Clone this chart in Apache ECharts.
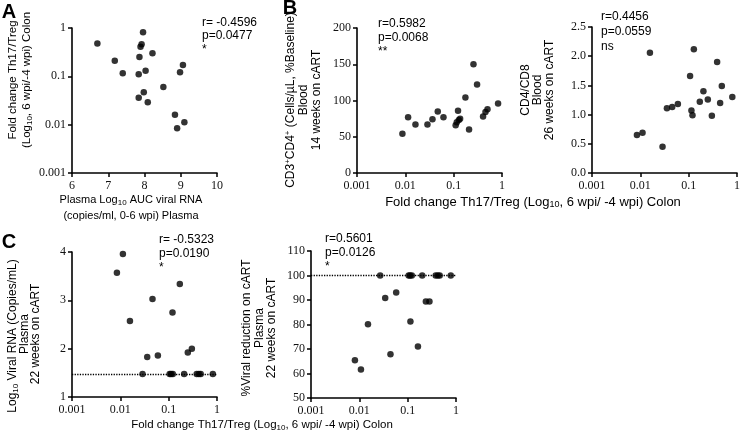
<!DOCTYPE html>
<html>
<head>
<meta charset="utf-8">
<script src="https://cdn.jsdelivr.net/npm/echarts@6/dist/echarts.min.js"></script>
<style>
html,body{margin:0;padding:0;background:#fff;}
#c{width:741px;height:439px;}
</style>
</head>
<body>
<div id="c"></div>
<script>
// ---------- DATA ----------
const logTickLabels = ['0.001', '0.01', '0.1', '1'];
const aXTicks = ['6', '7', '8', '9', '10'];

// Panel A: Plasma log10 AUC viral RNA vs fold change Th17/Treg
const aX = [6.70, 7.18, 7.40, 7.96, 7.92, 7.89, 7.86, 8.22, 7.84, 8.03, 7.98, 7.84, 8.09, 8.52, 9.06, 8.98, 8.84, 9.10, 8.90];
const aY = [0.48, 0.21, 0.116, 0.82, 0.46, 0.41, 0.25, 0.30, 0.11, 0.13, 0.047, 0.036, 0.029, 0.060, 0.172, 0.122, 0.016, 0.0112, 0.0084];

// Panel B1: fold change vs CD3+CD4+ %baseline
const b1X = [0.0087, 0.0114, 0.0162, 0.0287, 0.0364, 0.0469, 0.0615, 0.110, 0.116, 0.123, 0.128, 0.136, 0.175, 0.208, 0.257, 0.305, 0.406, 0.455, 0.501, 0.83];
const b1Y = [54, 77, 67, 67, 74, 85, 77, 66, 70, 86, 73, 75, 104, 60, 150, 122, 78, 84, 88, 96];

// Panel B2: fold change vs CD4/CD8
const b2X = [0.0085, 0.0111, 0.0158, 0.0288, 0.0355, 0.0456, 0.0598, 0.107, 0.114, 0.120, 0.128, 0.170, 0.202, 0.249, 0.302, 0.388, 0.448, 0.485, 0.80];
const b2Y = [0.65, 0.69, 2.06, 0.45, 1.11, 1.13, 1.18, 1.66, 1.07, 0.99, 2.12, 1.22, 1.40, 1.26, 0.98, 1.90, 1.20, 1.49, 1.30];

// Panel C1: fold change vs log10 viral RNA
const c1LOD = 1.477;
const c1X = [0.0085, 0.0113, 0.0158, 0.0288, 0.036, 0.0463, 0.0598, 0.105, 0.112, 0.120, 0.122, 0.170, 0.209, 0.249, 0.302, 0.38, 0.42, 0.46, 0.82];
const c1Y = [3.57, 3.96, 2.57, 1.477, 1.83, 3.03, 1.86, 1.477, 1.477, 2.75, 1.477, 3.34, 1.477, 1.92, 2.00, 1.477, 1.477, 1.477, 1.477];

// Panel C2: fold change vs % viral reduction
const c2LOD = 100;
const c2X = [0.0081, 0.0108, 0.0151, 0.027, 0.0343, 0.0441, 0.0579, 0.105, 0.112, 0.114, 0.122, 0.163, 0.20, 0.238, 0.282, 0.38, 0.42, 0.46, 0.78];
const c2Y = [65.4, 61.6, 80.1, 100, 90.8, 67.9, 93.1, 100, 100, 81.2, 100, 71.0, 100, 89.4, 89.4, 100, 100, 100, 100];

const stats = {
  A: ['r= -0.4596', 'p=0.0477', '*'],
  B1: ['r=0.5982', 'p=0.0068', '**'],
  B2: ['r=0.4456', 'p=0.0559', 'ns'],
  C1: ['r= -0.5323', 'p=0.0190', '*'],
  C2: ['r=0.5601', 'p=0.0126', '*']
};

// ---------- STYLE ----------
const SANS = '"Liberation Sans", Arial, sans-serif';
const SERIF = '"Liberation Serif", "Times New Roman", serif';
const INK = '#000';

function zip(xs, ys) { return xs.map((x, i) => [x, ys[i]]); }
function logFmt(v) {
  const e = Math.round(Math.log10(v));
  return logTickLabels[e + 3];
}
function baseAxis(extra, isX) {
  return Object.assign({
    axisLine: { show: true, onZero: false, lineStyle: { color: INK, width: 1.6 } },
    axisTick: { show: true, inside: false, length: 4, lineStyle: { color: INK, width: 1.5 } },
    axisLabel: { color: '#111', fontFamily: SERIF, fontSize: 12, margin: isX ? 7 : 6 },
    splitLine: { show: false },
    minorTick: { show: false }
  }, extra);
}
function logAxis(grid, isX) {
  const ax = baseAxis({ type: 'log', logBase: 10, min: 0.001, max: 1, gridIndex: grid }, isX);
  ax.axisLabel.formatter = logFmt;
  return ax;
}
function valAxis(grid, min, max, interval, isX, fmt) {
  const ax = baseAxis({ type: 'value', min, max, interval, gridIndex: grid }, isX);
  if (fmt) ax.axisLabel.formatter = fmt;
  return ax;
}
function scatter(i, data, markY) {
  const s = {
    type: 'scatter', xAxisIndex: i, yAxisIndex: i, data,
    symbol: 'circle', symbolSize: 6.5,
    itemStyle: { color: INK }, animation: false, silent: true
  };
  if (markY !== undefined) {
    s.markLine = {
      silent: true, symbol: ['none', 'none'], label: { show: false }, animation: false,
      lineStyle: { type: 'dotted', color: INK, width: 1.3 },
      data: [{ yAxis: markY }]
    };
  }
  return s;
}

const grids = [
  { left: 72, top: 28, width: 145, height: 145 },   // A
  { left: 357, top: 28, width: 145, height: 145 },  // B1
  { left: 592, top: 27, width: 145, height: 146 },  // B2
  { left: 72, top: 252, width: 145, height: 145 },  // C1
  { left: 311, top: 251, width: 145, height: 147 }  // C2
].map(g => Object.assign({ outerBoundsMode: 'none', containLabel: false }, g));

const xAxes = [
  valAxis(0, 6, 10, 1, true, v => aXTicks[Math.round(v) - 6]),
  logAxis(1, true), logAxis(2, true), logAxis(3, true), logAxis(4, true)
];
const yAxes = [
  logAxis(0, false),
  valAxis(1, 0, 200, 50, false),
  valAxis(2, 0, 2.5, 0.5, false, v => v.toFixed(1)),
  valAxis(3, 1, 4, 1, false),
  valAxis(4, 50, 110, 10, false)
];

// ---------- TEXT ----------
const rich = {
  sub: { fontSize: 8, fontFamily: SANS, fill: INK, verticalAlign: 'bottom', lineHeight: 14 },
  sup: { fontSize: 8, fontFamily: SANS, fill: INK, verticalAlign: 'top', lineHeight: 14 }
};
function txt(x, y, text, size, opts) {
  opts = opts || {};
  return {
    type: 'text', x, y, rotation: opts.rot ? Math.PI / 2 : 0, silent: true,
    style: {
      text, fill: INK, fontFamily: SANS, fontSize: size, fontWeight: opts.bold ? 'bold' : 'normal',
      align: opts.align || 'center', verticalAlign: 'middle', rich: Object.assign({}, rich, {
        sub: Object.assign({}, rich.sub, { fontSize: Math.round(size * 0.7) }),
        sup: Object.assign({}, rich.sup, { fontSize: Math.round(size * 0.7) })
      })
    }
  };
}
function statBlock(x, ys, lines) {
  return lines.map((l, i) => txt(x, ys[i], l, 12, { align: 'left' }));
}

const graphics = [
  txt(9, 12, 'A', 20, { bold: true }),
  txt(290, 8, 'B', 20, { bold: true }),
  txt(9, 242, 'C', 20, { bold: true }),

  // Panel A titles
  txt(13, 80, 'Fold change Th17/Treg', 11.5, { rot: true }),
  txt(27, 80, '(Log{sub|10}, 6 wpi/-4 wpi) Colon', 11.5, { rot: true }),
  txt(131, 200, 'Plasma Log{sub|10} AUC viral RNA', 11),
  txt(131, 216, '(copies/ml, 0-6 wpi) Plasma', 11),

  // Panel B titles
  txt(291, 100, 'CD3{sup|+}CD4{sup|+} (Cells/µL, %Baseline)', 12, { rot: true }),
  txt(304, 100, 'Blood', 12, { rot: true }),
  txt(316.5, 100, '14 weeks on cART', 12, { rot: true }),
  txt(525.5, 90, 'CD4/CD8', 12, { rot: true }),
  txt(537.5, 90, 'Blood', 12, { rot: true }),
  txt(549.5, 90, '26 weeks on cART', 12, { rot: true }),
  txt(533, 202, 'Fold change Th17/Treg (Log{sub|10}, 6 wpi/ -4 wpi) Colon', 13),

  // Panel C titles
  txt(13, 336, 'Log{sub|10} Viral RNA (Copies/mL)', 12, { rot: true }),
  txt(24.5, 334, 'Plasma', 12, { rot: true }),
  txt(36, 334, '22 weeks on cART', 12, { rot: true }),
  txt(247, 328, '%Viral reduction on cART', 12, { rot: true }),
  txt(260, 328, 'Plasma', 12, { rot: true }),
  txt(272, 328, '22 weeks on cART', 12, { rot: true }),
  txt(262, 425, 'Fold change Th17/Treg (Log{sub|10}, 6 wpi/ -4 wpi) Colon', 11.5)
].concat(
  statBlock(202, [23, 36, 50], stats.A),
  statBlock(378, [24, 38, 52], stats.B1),
  statBlock(601, [17, 32, 47], stats.B2),
  statBlock(159, [240, 254, 268], stats.C1),
  statBlock(325, [239, 253, 267], stats.C2)
);

const chart = echarts.init(document.getElementById('c'), null, { renderer: 'canvas' });
chart.setOption({
  animation: false,
  backgroundColor: '#fff',
  grid: grids,
  xAxis: xAxes,
  yAxis: yAxes,
  series: [
    scatter(0, zip(aX, aY)),
    scatter(1, zip(b1X, b1Y)),
    scatter(2, zip(b2X, b2Y)),
    scatter(3, zip(c1X, c1Y), c1LOD),
    scatter(4, zip(c2X, c2Y), c2LOD)
  ],
  graphic: graphics
});
</script>
</body>
</html>
